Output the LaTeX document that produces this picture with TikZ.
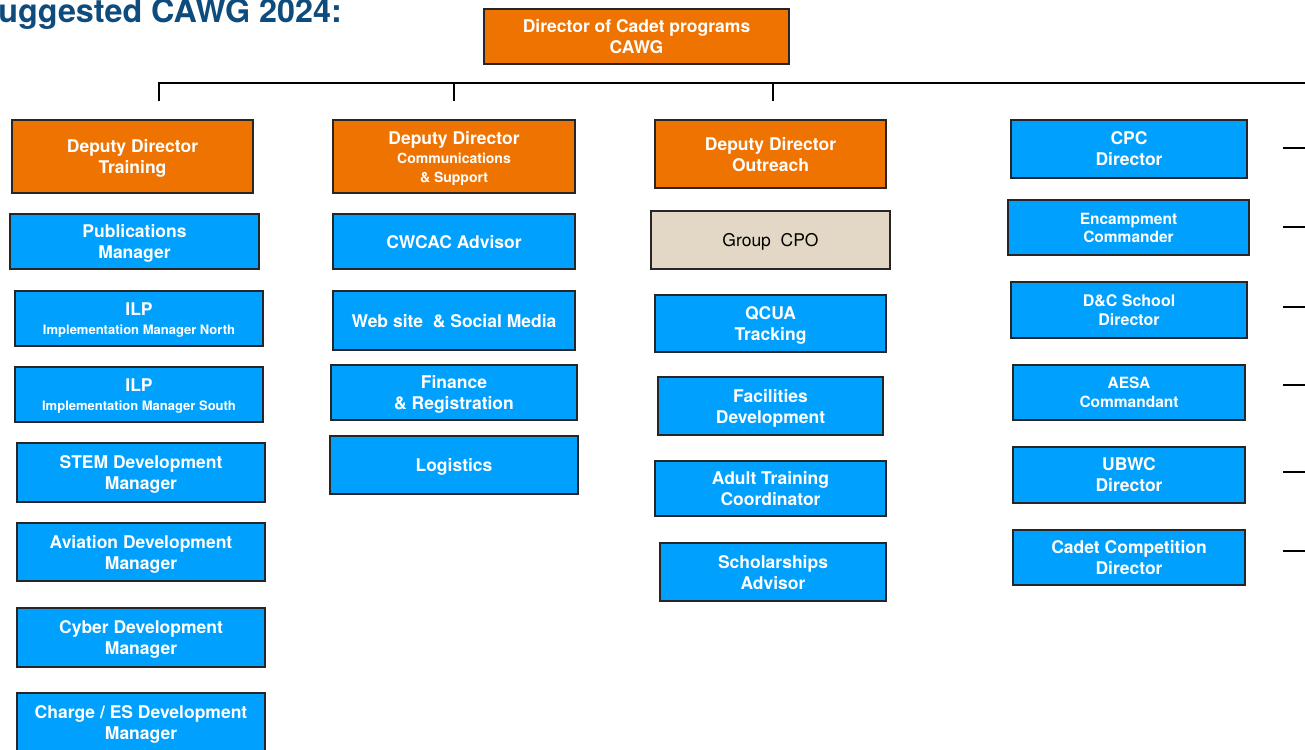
\documentclass[tikz,border=0pt]{standalone}
\usepackage{fontspec}
\setmainfont{TeX Gyre Heros}
\definecolor{boxorange}{HTML}{EF7300}
\definecolor{boxblue}{HTML}{00A0FE}
\definecolor{boxbeige}{HTML}{E3D8C5}
\definecolor{titleblue}{HTML}{0E4C7E}
\newcommand{\smalltxt}{\fontsize{14}{18}\selectfont}
\newcommand{\tinytxt}{\fontsize{13}{17}\selectfont}
\tikzset{
    unit/.style={draw=black!85, line width=1.2pt, text=white, align=center,
        inner sep=0pt, text depth=0pt, font=\bfseries\fontsize{17.5}{21}\selectfont},
    head/.style={unit, fill=boxorange},
    staff/.style={unit, fill=boxblue},
    group/.style={unit, fill=boxbeige, text=black, font=\fontsize{17.5}{21}\selectfont},
    bus/.style={line width=1.6pt, black}
}
\begin{document}
\begin{tikzpicture}[x=1pt, y=-1pt]
    \useasboundingbox (0,0) rectangle (1305,749);

    % title
    \node[anchor=base east, inner sep=0pt, text=titleblue,
        font=\bfseries\fontsize{32.3}{35}\selectfont] (title) at (342,23) {uggested CAWG 2024:};

    % director
    \node[head, minimum width=305, minimum height=55] (dir) at (636.5,36.5)
        {Director of Cadet programs\\CAWG};

    % training
    \node[head, minimum width=241, minimum height=73] (trn) at (132.5,156.5) {Deputy Director\\Training};
    \node[staff, minimum width=249, minimum height=55] (pub) at (134.5,241.5) {Publications\\Manager};
    \node[staff, minimum width=248, minimum height=55] (ilpn) at (139,318.5) {ILP\\[-2pt]\tinytxt Implementation Manager North};
    \node[staff, minimum width=248, minimum height=55] (ilps) at (139,394.5) {ILP\\[-2pt]\tinytxt Implementation Manager South};
    \node[staff, minimum width=248, minimum height=59] (stem) at (141,472.5) {STEM Development\\Manager};
    \node[staff, minimum width=248, minimum height=58] (avi) at (141,552) {Aviation Development\\Manager};
    \node[staff, minimum width=248, minimum height=59] (cyber) at (141,637.5) {Cyber Development\\Manager};
    \node[staff, minimum width=248, minimum height=59] (charge) at (141,722.5) {Charge / ES Development\\Manager};

    % communications
    \node[head, minimum width=242, minimum height=73] (comm) at (454,156.5)
        {Deputy Director\\[-2pt]\smalltxt Communications\\[-2pt]\smalltxt \& Support};
    \node[staff, minimum width=242, minimum height=55] (cwcac) at (454,241.5) {CWCAC Advisor};
    \node[staff, minimum width=242, minimum height=59] (web) at (454,320.5) {Web site~ \& Social Media};
    \node[staff, minimum width=246, minimum height=55] (fin) at (454,392.5) {Finance\\\& Registration};
    \node[staff, minimum width=248, minimum height=58] (log) at (454,465) {Logistics};

    % outreach
    \node[head, minimum width=231, minimum height=68] (outr) at (770.5,154) {Deputy Director\\Outreach};
    \node[group, minimum width=239, minimum height=58] (cpo) at (770.5,240) {Group~ CPO};
    \node[staff, minimum width=231, minimum height=57] (qcua) at (770.5,323.5) {QCUA\\Tracking};
    \node[staff, minimum width=225, minimum height=58] (fac) at (770.5,406) {Facilities\\Development};
    \node[staff, minimum width=231, minimum height=55] (adult) at (770.5,488.5) {Adult Training\\Coordinator};
    \node[staff, minimum width=226, minimum height=58] (schol) at (773,572) {Scholarships\\Advisor};

    % activities
    \node[staff, minimum width=236, minimum height=58] (cpc) at (1129,149) {CPC\\Director};
    \node[staff, minimum width=241, minimum height=55] (enc) at (1128.5,227.5) {\fontsize{15.5}{19}\selectfont Encampment\\[-3pt]\fontsize{15.5}{19}\selectfont Commander};
    \node[staff, minimum width=236, minimum height=56] (dc) at (1129,310) {\fontsize{16}{20}\selectfont D\&C School\\[-2pt]\fontsize{16}{20}\selectfont Director};
    \node[staff, minimum width=232, minimum height=55] (aesa) at (1129,392.5) {\fontsize{15.5}{19}\selectfont AESA\\[-2pt]\fontsize{15.5}{19}\selectfont Commandant};
    \node[staff, minimum width=232, minimum height=56] (ubwc) at (1129,475) {UBWC\\Director};
    \node[staff, minimum width=232, minimum height=55] (comp) at (1129,557.5) {Cadet Competition\\Director};

    % bus line and drops
    \coordinate (busl) at (159,83);
    \coordinate (busr) at (1305,83);
    \draw[bus] (busl) -- (busr);
    \foreach \x in {159, 454, 773}
        \draw[bus] (\x,82) -- (\x,101);

    % stubs at the right edge
    \foreach \y in {148, 227, 307, 385, 472, 551}
        \draw[bus] (1283,\y) -- (1305,\y);
\end{tikzpicture}
\end{document}
